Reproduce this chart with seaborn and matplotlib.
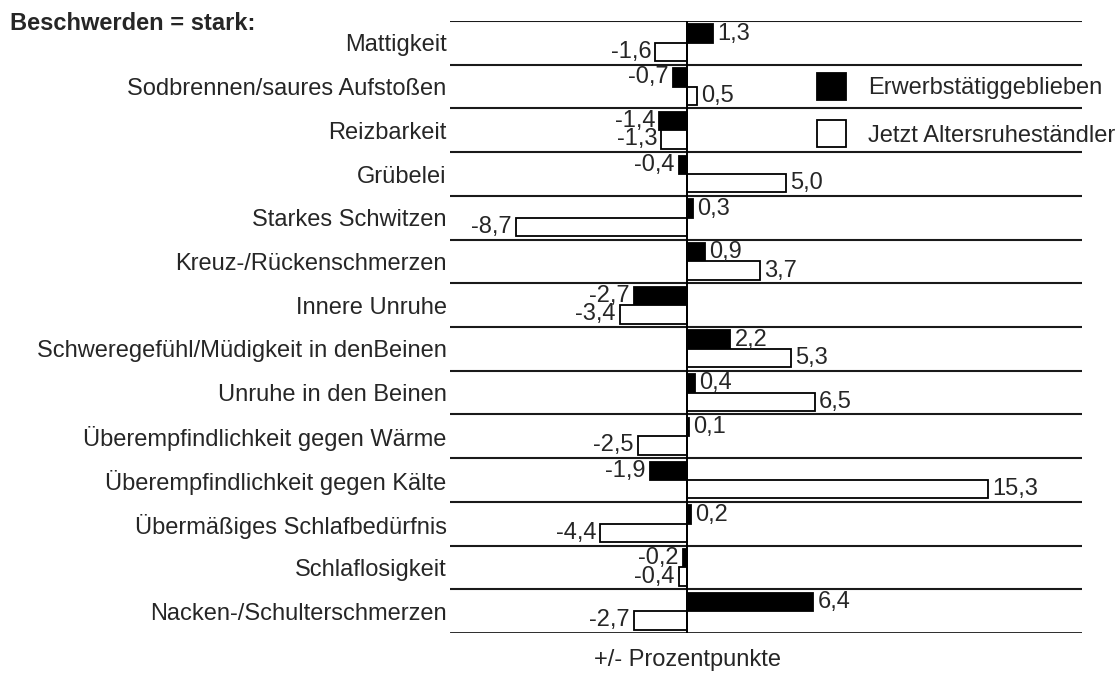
import numpy as np
import pandas as pd
import seaborn as sns
import matplotlib.pyplot as plt
import matplotlib.transforms as mtransforms

# Beschwerden (stark), Veraenderung in Prozentpunkten
beschwerden = ['Mattigkeit', 'Sodbrennen/saures Aufstoßen', 'Reizbarkeit', 'Grübelei',
               'Starkes Schwitzen', 'Kreuz-/Rückenschmerzen', 'Innere Unruhe',
               'Schweregefühl/Müdigkeit in denBeinen', 'Unruhe in den Beinen',
               'Überempfindlichkeit gegen Wärme', 'Überempfindlichkeit gegen Kälte',
               'Übermäßiges Schlafbedürfnis', 'Schlaflosigkeit', 'Nacken-/Schulterschmerzen']
erwerbstaetig = [1.3, -0.7, -1.4, -0.4, 0.3, 0.9, -2.7, 2.2, 0.4, 0.1, -1.9, 0.2, -0.2, 6.4]
ruhestand = [-1.6, 0.5, -1.3, 5.0, -8.7, 3.7, -3.4, 5.3, 6.5, -2.5, 15.3, -4.4, -0.4, -2.7]
gruppen = ['Erwerbstätiggeblieben', 'Jetzt Altersruheständler']

df = pd.DataFrame({'Beschwerde': beschwerden * 2,
                   'Wert': erwerbstaetig + ruhestand,
                   'Gruppe': [gruppen[0]] * len(beschwerden) + [gruppen[1]] * len(beschwerden)})

sns.set_style('white')
plt.rcParams['font.family'] = ['Liberation Sans', 'DejaVu Sans']
FS = 17

fig = plt.figure(figsize=(11.2, 6.75), dpi=100)
ax = fig.add_axes([450/1120, 1-633/675, (1082-450)/1120, (633-21)/675])

sns.barplot(data=df, y='Beschwerde', x='Wert', hue='Gruppe', orient='h',
            palette=['black', 'white'], edgecolor='black', linewidth=1.3,
            width=0.84, saturation=1, ax=ax)

ax.set_xlim(-12.03, 20.05)
ax.set_ylim(len(beschwerden) - 0.5, -0.5)

# Trennlinien zwischen den Zeilen
for i in range(len(beschwerden) + 1):
    ax.axhline(i - 0.5, color='#1a1a1a', lw=2.0 if i == len(beschwerden) else 1.5, zorder=0)
ax.axvline(0, color='black', lw=1.4, zorder=3)

for cont in ax.containers:
    werte = [b.get_width() for b in cont]
    ax.bar_label(cont, labels=[f'{v:.1f}'.replace('.', ',') for v in werte],
                 padding=3, fontsize=FS)

for s in ax.spines.values():
    s.set_visible(False)
ax.set_xticks([])
ax.set_xlabel('')
ax.set_ylabel('')
ax.tick_params(axis='y', left=False, pad=-1, labelsize=FS)

ax.legend(frameon=False, loc='upper left', bbox_to_anchor=(805/1120, 1-61/675),
          bbox_transform=fig.transFigure, fontsize=FS, borderpad=0,
          handlelength=1.23, handleheight=1.4, handletextpad=0.93, labelspacing=0.85)

fig.text(10/1120, 1-23/675, 'Beschwerden = stark:', fontsize=FS, fontweight='bold',
         va='center', ha='left')
trans = mtransforms.blended_transform_factory(ax.transData, fig.transFigure)
ax.text(0, 1-660/675, '+/- Prozentpunkte', transform=trans, ha='center', va='center',
        fontsize=FS)

fig.savefig('out.png', dpi=100)
